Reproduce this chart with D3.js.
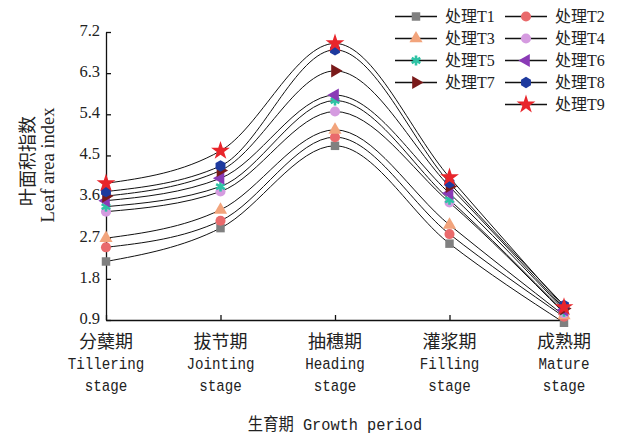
<!DOCTYPE html>
<html>
<head>
<meta charset="utf-8">
<script src="https://cdn.jsdelivr.net/npm/d3@7"></script>
<style>
    body { margin: 0; background: #fff; }
    svg text { fill: #222; }
    .axis path, .axis line { stroke: #111; stroke-width: 1.3; }
</style>
</head>
<body>
<svg id="chart" width="619" height="437"></svg>
<script>
// Data
const stagesCn = ['分蘖期', '拔节期', '抽穗期', '灌浆期', '成熟期'],
    stagesEn = ['Tillering', 'Jointing', 'Heading', 'Filling', 'Mature'],
    yTicks = [0.9, 1.8, 2.7, 3.6, 4.5, 5.4, 6.3, 7.2];

const t1 = [2.18, 2.91, 4.71, 2.57, 0.84],
    t2 = [2.49, 3.07, 4.90, 2.78, 0.97],
    t3 = [2.69, 3.31, 5.06, 2.98, 1.00],
    t4 = [3.27, 3.71, 5.46, 3.47, 1.05],
    t5 = [3.38, 3.82, 5.70, 3.53, 1.08],
    t6 = [3.51, 4.00, 5.82, 3.67, 1.12],
    t7 = [3.61, 4.17, 6.35, 3.82, 1.15],
    t8 = [3.71, 4.27, 6.81, 3.90, 1.22],
    t9 = [3.89, 4.60, 6.95, 4.02, 1.18];

const seriesNames = ['处理T1', '处理T2', '处理T3', '处理T4', '处理T5', '处理T6', '处理T7', '处理T8', '处理T9'],
    seriesValues = [t1, t2, t3, t4, t5, t6, t7, t8, t9],
    seriesColors = ['#808080', '#e96a6c', '#f2a47c', '#d59be0', '#2fc3a5', '#8a3ab6', '#7a1a1a', '#1e3a9e', '#e8252b'],
    seriesShapes = ['square', 'circle', 'triangle', 'circle', 'asterisk', 'left', 'right', 'hexagon', 'star'];

/**
 * Layout.
 */
const svg = d3.select('#chart'),
    plot = { left: 106, right: 564, top: 32, bottom: 320 };

const xScale = d3.scalePoint().domain(stagesEn).range([plot.left, plot.right]),
    yScale = d3.scaleLinear().domain([0.9, 7.2]).range([plot.bottom, plot.top]);

const serifFont = '"Liberation Serif", "Noto Sans CJK SC", serif',
    monoFont = '"Liberation Mono", "Noto Sans CJK SC", monospace',
    cjkFont = '"Noto Sans CJK SC", sans-serif';

// Axes, ticks pointing inwards
const yAxis = d3.axisLeft(yScale).tickValues(yTicks).tickSizeInner(-5).tickSizeOuter(0)
    .tickPadding(6).tickFormat(d3.format('.1f'));
const xAxis = d3.axisBottom(xScale).tickSizeInner(-5).tickSizeOuter(0).tickFormat('');

svg.append('g').attr('class', 'axis x')
    .attr('transform', 'translate(0,' + plot.bottom + ')')
    .call(xAxis);

svg.append('g').attr('class', 'axis y')
    .attr('transform', 'translate(' + plot.left + ',0)')
    .call(yAxis)
    .selectAll('text')
    .attr('dy', '0.2em')
    .attr('font-family', serifFont).attr('font-size', 16.5).attr('fill', '#222');

svg.selectAll('.axis .domain').attr('stroke-width', 1.5);

// Category labels, three lines each (Latin squeezed like a half-width font)
const xLabels = svg.append('g').attr('class', 'x-labels');
stagesEn.forEach((s, i) => {
    const g = xLabels.append('g').attr('transform', 'translate(' + xScale(s) + ',0)');
    g.append('text').attr('y', 348).attr('text-anchor', 'middle')
        .attr('font-family', cjkFont).attr('font-size', 18)
        .text(stagesCn[i]);
    g.append('text').attr('transform', 'translate(0,369) scale(0.86,1)').attr('text-anchor', 'middle')
        .attr('font-family', monoFont).attr('font-size', 16.5)
        .text(s);
    g.append('text').attr('transform', 'translate(0,391) scale(0.86,1)').attr('text-anchor', 'middle')
        .attr('font-family', monoFont).attr('font-size', 16.5)
        .text('stage');
});

// Axis titles
svg.append('text').attr('transform', 'translate(' + (plot.left + plot.right) / 2 + ',430) scale(0.9,1)')
    .attr('text-anchor', 'middle').attr('font-family', monoFont).attr('font-size', 17)
    .text('生育期 Growth period');

svg.append('text').attr('transform', 'translate(34,161) rotate(-90)')
    .attr('text-anchor', 'middle').attr('font-family', cjkFont).attr('font-size', 18)
    .text('叶面积指数');
svg.append('text').attr('transform', 'translate(54,165) rotate(-90)')
    .attr('text-anchor', 'middle').attr('font-family', serifFont).attr('font-size', 18.5)
    .text('Leaf area index');

/**
 * Markers.
 */
const hexagon = {
    draw(ctx, size) {
        const r = Math.sqrt(size / 2.6);
        for (let i = 0; i < 6; i++) {
            const a = Math.PI / 3 * i + Math.PI / 6;
            i ? ctx.lineTo(r * Math.cos(a), r * Math.sin(a)) : ctx.moveTo(r * Math.cos(a), r * Math.sin(a));
        }
        ctx.closePath();
    }
};

function drawMarker(g, shape, color) {
    if (shape === 'asterisk') {
        const r = 5;
        [30, 90, 150].forEach(a => {
            const rad = a * Math.PI / 180;
            g.append('line')
                .attr('x1', -r * Math.cos(rad)).attr('y1', -r * Math.sin(rad))
                .attr('x2', r * Math.cos(rad)).attr('y2', r * Math.sin(rad))
                .attr('stroke', color).attr('stroke-width', 2.6);
        });
        return;
    }
    let type = d3.symbolCircle, size = 80, rotate = 0;
    if (shape === 'square') { type = d3.symbolSquare; size = 72; }
    else if (shape === 'triangle') { type = d3.symbolTriangle; size = 75; }
    else if (shape === 'left') { type = d3.symbolTriangle; size = 75; rotate = -90; }
    else if (shape === 'right') { type = d3.symbolTriangle; size = 75; rotate = 90; }
    else if (shape === 'hexagon') { type = hexagon; size = 85; }
    else if (shape === 'star') { type = d3.symbolStar; size = 110; }
    g.append('path')
        .attr('d', d3.symbol(type, size)())
        .attr('transform', rotate ? 'rotate(' + rotate + ')' : null)
        .attr('fill', color);
}

// Curves first, markers on top
const line = d3.line()
    .x((d, i) => xScale(stagesEn[i]))
    .y(d => yScale(d))
    .curve(d3.curveMonotoneX);

svg.append('g').attr('class', 'lines')
    .selectAll('path').data(seriesValues).join('path')
    .attr('d', line)
    .attr('fill', 'none').attr('stroke', '#111').attr('stroke-width', 1);

const markers = svg.append('g').attr('class', 'markers');
seriesValues.forEach((vals, k) => {
    vals.forEach((v, i) => {
        const g = markers.append('g')
            .attr('transform', 'translate(' + xScale(stagesEn[i]) + ',' + yScale(v) + ')');
        drawMarker(g, seriesShapes[k], seriesColors[k]);
    });
});

/**
 * Legend: T1/T3/T5/T7 on the left, T2/T4/T6/T8/T9 on the right.
 */
const legend = svg.append('g').attr('class', 'legend');
seriesNames.forEach((name, k) => {
    const col = k === 8 ? 1 : k % 2,
        row = k === 8 ? 4 : Math.floor(k / 2),
        x0 = col ? 505 : 395,
        y0 = 16.5 + row * 22;
    const g = legend.append('g').attr('transform', 'translate(' + x0 + ',' + y0 + ')');
    g.append('line').attr('x1', 0).attr('x2', 42).attr('stroke', '#111').attr('stroke-width', 1.3);
    drawMarker(g.append('g').attr('transform', 'translate(21,0)'), seriesShapes[k], seriesColors[k]);
    g.append('text').attr('x', 50).attr('dy', '0.35em')
        .attr('font-family', serifFont).attr('font-size', 16)
        .text(name);
});
</script>
</body>
</html>
